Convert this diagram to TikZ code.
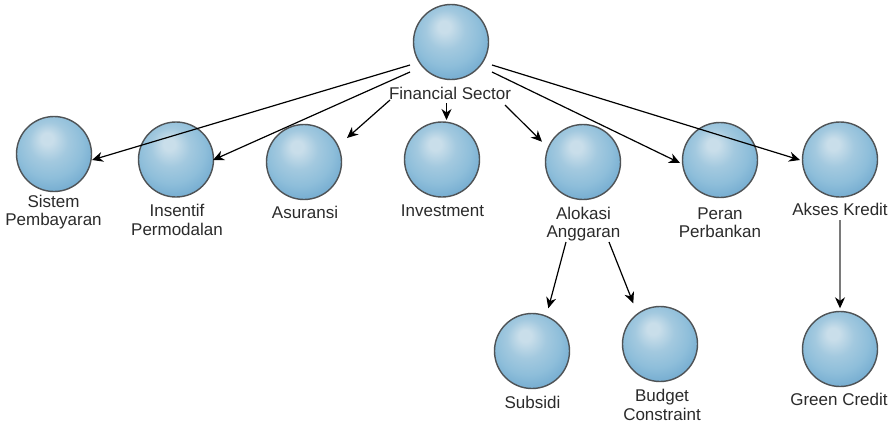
\documentclass[tikz,border=0pt]{standalone}
\usepackage{fontspec}
\setmainfont{Liberation Sans}
\usetikzlibrary{arrows.meta,calc}
\definecolor{sphHL}{HTML}{C9DEEA}
\definecolor{sphA}{HTML}{A3C9DF}
\definecolor{sphB}{HTML}{8EBEDA}
\definecolor{sphC}{HTML}{6CA6CD}
\definecolor{sphLine}{HTML}{4F5356}
\definecolor{txt}{HTML}{2B2B2B}
\definecolor{greyline}{HTML}{7A7A7A}
\pgfdeclareradialshading{sphshade}{\pgfpoint{-5bp}{11bp}}{color(0bp)=(sphHL); color(4bp)=(sphHL); color(13bp)=(sphA); color(22bp)=(sphB); color(33bp)=(sphC); color(50bp)=(sphC)}
\begin{document}
\begin{tikzpicture}[x=1pt,y=-1pt,
  sphere/.style={circle, minimum size=75pt, inner sep=0pt, draw=sphLine, line width=1.4pt, shading=sphshade},
  lbl/.style={font=\fontsize{17}{18.3}\selectfont, align=center, anchor=base, inner sep=0pt, text=txt},
  arr/.style={line width=1.2pt, -{Stealth[length=11pt,width=10pt,inset=3.5pt,color=black]}}]
\useasboundingbox[fill=white] (0,0) rectangle (893,424);
% spheres
\node[sphere] (fs)  at (451,42) {};
\node[sphere] (sis) at (54,154) {};
\node[sphere] (ins) at (176,159.5) {};
\node[sphere] (asu) at (304,162) {};
\node[sphere] (inv) at (442,159.5) {};
\node[sphere] (alo) at (583,162) {};
\node[sphere] (per) at (720,160) {};
\node[sphere] (aks) at (840,159.5) {};
\node[sphere] (sub) at (532,351) {};
\node[sphere] (bud) at (660,344) {};
\node[sphere] (grn) at (840,349) {};
% labels (base = baseline of last line)
\node[lbl] (fsl)  at (450,99) {Financial Sector};
\node[lbl] (sisl) at (53.5,225.5) {Sistem\\Pembayaran};
\node[lbl] (insl) at (177,235) {Insentif\\Permodalan};
\node[lbl] (asul) at (305,218) {Asuransi};
\node[lbl] (invl) at (442.5,216) {Investment};
\node[lbl] (alol) at (583.5,237.5) {Alokasi\\Anggaran};
\node[lbl] (perl) at (720,237.5) {Peran\\Perbankan};
\node[lbl] (aksl) at (840,215) {Akses Kredit};
\node[lbl] (subl) at (532.5,408) {Subsidi};
\node[lbl] (budl) at (662,420) {Budget\\Constraint};
\node[lbl] (grnl) at (839,405.7) {Green Credit};
% connectors
\draw[arr] ($(fs)+(-41,23)$) -- ($(sis)+(38,6)$);
\draw[arr] ($(fs)+(-41,30)$) -- ($(ins)+(37,0.5)$);
\draw[arr] ($(fs)+(-61,58)$) -- ($(asu)+(43,-24)$);
\draw[arr] ($(fs)+(-4.5,61)$) -- ($(inv)+(4.5,-39.5)$);
\draw[arr] ($(fs)+(54,63)$) -- ($(alo)+(-41,-20.3)$);
\draw[arr] ($(fs)+(41,30)$) -- ($(per)+(-40,3)$);
\draw[arr] ($(fs)+(41,23)$) -- ($(aks)+(-40,0.5)$);
\draw[arr] ($(alo)+(-17,80)$) -- ($(sub)+(16.3,-42.7)$);
\draw[arr] ($(alo)+(26,80)$) -- ($(bud)+(-26.7,-40.7)$);
\draw[arr, draw=greyline] ($(aks)+(0,60.5)$) -- ($(grn)+(0,-40.7)$);
\end{tikzpicture}
\end{document}
